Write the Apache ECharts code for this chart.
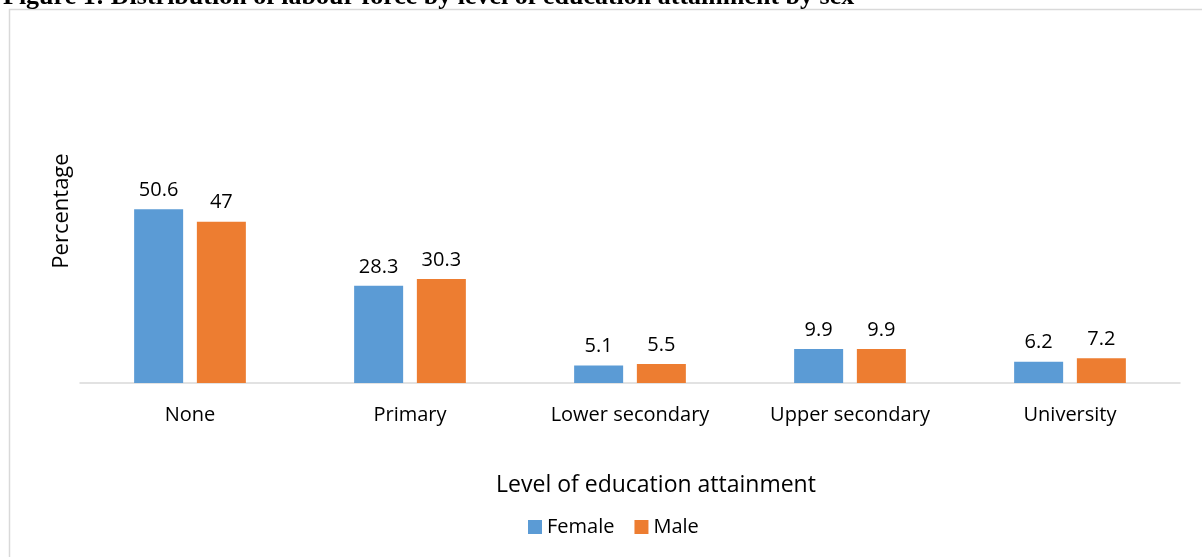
<!DOCTYPE html>
<html>
<head>
<meta charset="utf-8">
<script src="https://cdn.jsdelivr.net/npm/echarts@6/dist/echarts.min.js"></script>
<style>
  html, body { margin: 0; padding: 0; background: #fff; }
  #chart { width: 1202px; height: 557px; }
</style>
</head>
<body>
<div id="chart"></div>
<script>
// data
const categories = ['None', 'Primary', 'Lower secondary', 'Upper secondary', 'University']
const femaleData = [50.6, 28.3, 5.1, 9.9, 6.2]
const maleData = [47, 30.3, 5.5, 9.9, 7.2]

const font = 'Open Sans'

const chart = echarts.init(document.getElementById('chart'))

const barSeries = (name, data, color) => ({
  name,
  type: 'bar',
  data,
  barWidth: 49,
  barGap: '28%',
  itemStyle: { color },
  label: {
    show: true,
    position: 'top',
    distance: 9,
    color: '#000',
    fontFamily: font,
    fontSize: 20
  }
})

chart.setOption({
  animation: false,
  title: {
    text: 'Figure 1: Distribution of labour force by level of education attainment by sex',
    left: -2,
    top: -21,
    textStyle: {
      fontFamily: 'Liberation Serif',
      fontWeight: 'bold',
      fontSize: 26,
      color: '#000'
    }
  },
  graphic: [
    {
      type: 'rect',
      shape: { x: 9.5, y: 9.5, width: 1200, height: 560 },
      style: { fill: 'none', stroke: '#d9d9d9', lineWidth: 1.5 },
      silent: true
    },
    {
      // y axis title
      type: 'text',
      x: 62,
      y: 211,
      rotation: Math.PI / 2,
      style: {
        text: 'Percentage',
        fontFamily: font,
        fontSize: 22,
        fill: '#000',
        align: 'center',
        verticalAlign: 'middle'
      },
      silent: true
    }
  ],
  legend: {
    top: 512,
    left: 523,
    itemWidth: 14,
    itemHeight: 14,
    itemGap: 20,
    icon: 'rect',
    textStyle: { fontFamily: font, fontSize: 20, color: '#000' },
    data: ['Female', 'Male']
  },
  grid: {
    left: 80,
    right: 22,
    top: 177,
    bottom: 174
  },
  xAxis: {
    type: 'category',
    data: categories,
    name: 'Level of education attainment',
    nameLocation: 'middle',
    nameGap: 91,
    nameTextStyle: {
      fontFamily: font,
      fontSize: 23,
      color: '#000',
      padding: [0, 0, 0, 52]
    },
    axisLine: { lineStyle: { color: '#d9d9d9', width: 1.5 } },
    axisTick: { show: false },
    axisLabel: {
      fontFamily: font,
      fontSize: 20,
      color: '#000',
      margin: 22
    }
  },
  yAxis: {
    type: 'value',
    min: 0,
    max: 60,
    axisLine: { show: false },
    axisTick: { show: false },
    axisLabel: { show: false },
    splitLine: { show: false }
  },
  series: [
    barSeries('Female', femaleData, '#5b9bd5'),
    barSeries('Male', maleData, '#ed7d31')
  ]
})
</script>
</body>
</html>
